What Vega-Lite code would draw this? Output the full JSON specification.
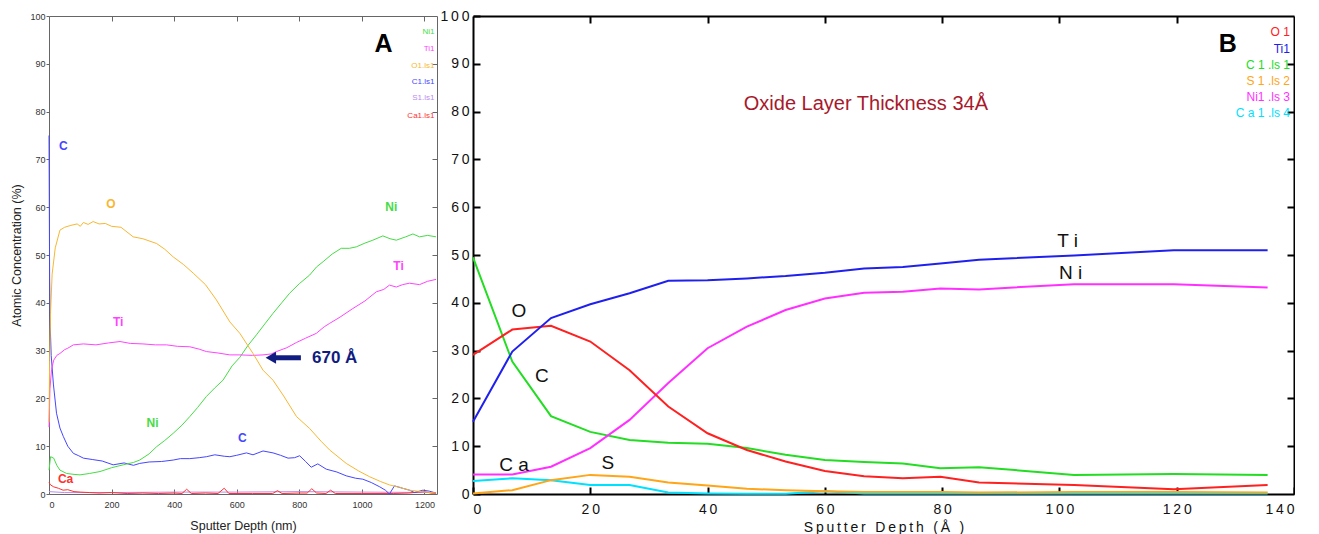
{
 "$schema": "https://vega.github.io/schema/vega-lite/v6.json",
 "background": "white",
 "padding": {"left": 10, "top": 9, "right": 0, "bottom": 0},
 "config": {"font": "Liberation Sans", "view": {"stroke": null}},
 "bounds": "flush",
 "spacing": 36,
 "resolve": {"scale": {"color": "independent"}},
 "datasets": {
  "A": [
   {"el":"S","depth":0,"conc":0.5},{"el":"S","depth":50,"conc":0.3},{"el":"S","depth":200,"conc":0.3},{"el":"S","depth":400,"conc":0.4},{"el":"S","depth":600,"conc":0.4},{"el":"S","depth":800,"conc":0.5},{"el":"S","depth":1000,"conc":0.4},{"el":"S","depth":1237,"conc":0.3},
   {"el":"Ca","depth":0,"conc":2.4},{"el":"Ca","depth":5,"conc":1.9},{"el":"Ca","depth":15,"conc":1.5},{"el":"Ca","depth":30,"conc":1.2},{"el":"Ca","depth":45,"conc":0.8},{"el":"Ca","depth":60,"conc":0.9},{"el":"Ca","depth":80,"conc":0.5},{"el":"Ca","depth":100,"conc":0.4},{"el":"Ca","depth":130,"conc":0.3},{"el":"Ca","depth":160,"conc":0.2},{"el":"Ca","depth":200,"conc":0.3},{"el":"Ca","depth":250,"conc":0.1},{"el":"Ca","depth":300,"conc":0.2},{"el":"Ca","depth":350,"conc":0.1},{"el":"Ca","depth":400,"conc":0.2},{"el":"Ca","depth":425,"conc":0.1},{"el":"Ca","depth":440,"conc":1.0},{"el":"Ca","depth":455,"conc":0.1},{"el":"Ca","depth":500,"conc":0.2},{"el":"Ca","depth":540,"conc":0.1},{"el":"Ca","depth":560,"conc":1.2},{"el":"Ca","depth":575,"conc":0.1},{"el":"Ca","depth":650,"conc":0.1},{"el":"Ca","depth":715,"conc":0.1},{"el":"Ca","depth":730,"conc":0.7},{"el":"Ca","depth":745,"conc":0.1},{"el":"Ca","depth":800,"conc":0.2},{"el":"Ca","depth":825,"conc":0.2},{"el":"Ca","depth":840,"conc":1.1},{"el":"Ca","depth":855,"conc":0.2},{"el":"Ca","depth":885,"conc":0.1},{"el":"Ca","depth":900,"conc":0.8},{"el":"Ca","depth":915,"conc":0.1},{"el":"Ca","depth":1000,"conc":0.1},{"el":"Ca","depth":1100,"conc":0.1},{"el":"Ca","depth":1150,"conc":0.2},{"el":"Ca","depth":1180,"conc":0.4},{"el":"Ca","depth":1200,"conc":0.5},{"el":"Ca","depth":1220,"conc":0.2},{"el":"Ca","depth":1237,"conc":0.1},
   {"el":"C","depth":0,"conc":75},{"el":"C","depth":1,"conc":60},{"el":"C","depth":2,"conc":45},{"el":"C","depth":4,"conc":35},{"el":"C","depth":7,"conc":29},{"el":"C","depth":14,"conc":23},{"el":"C","depth":24,"conc":16.9},{"el":"C","depth":35,"conc":13.8},{"el":"C","depth":46,"conc":12},{"el":"C","depth":60,"conc":10},{"el":"C","depth":78,"conc":8.5},{"el":"C","depth":95,"conc":8},{"el":"C","depth":110,"conc":7.5},{"el":"C","depth":140,"conc":7.2},{"el":"C","depth":170,"conc":6.9},{"el":"C","depth":205,"conc":6.1},{"el":"C","depth":240,"conc":6.5},{"el":"C","depth":270,"conc":6},{"el":"C","depth":290,"conc":6.4},{"el":"C","depth":320,"conc":6.7},{"el":"C","depth":360,"conc":6.8},{"el":"C","depth":397,"conc":7.1},{"el":"C","depth":420,"conc":7.4},{"el":"C","depth":450,"conc":7.4},{"el":"C","depth":480,"conc":7.6},{"el":"C","depth":503,"conc":7.8},{"el":"C","depth":530,"conc":8.2},{"el":"C","depth":560,"conc":7.9},{"el":"C","depth":578,"conc":7.8},{"el":"C","depth":600,"conc":8.1},{"el":"C","depth":631,"conc":8.6},{"el":"C","depth":652,"conc":8.2},{"el":"C","depth":684,"conc":9},{"el":"C","depth":716,"conc":8.6},{"el":"C","depth":740,"conc":8.1},{"el":"C","depth":764,"conc":7.5},{"el":"C","depth":785,"conc":7.6},{"el":"C","depth":801,"conc":8},{"el":"C","depth":820,"conc":6.8},{"el":"C","depth":838,"conc":5.6},{"el":"C","depth":859,"conc":6.3},{"el":"C","depth":886,"conc":5.2},{"el":"C","depth":920,"conc":4.6},{"el":"C","depth":950,"conc":3.8},{"el":"C","depth":980,"conc":3.3},{"el":"C","depth":1003,"conc":3.1},{"el":"C","depth":1030,"conc":2.4},{"el":"C","depth":1057,"conc":1.5},{"el":"C","depth":1075,"conc":0.8},{"el":"C","depth":1088,"conc":0},{"el":"C","depth":1104,"conc":1.7},{"el":"C","depth":1130,"conc":1.2},{"el":"C","depth":1152,"conc":0.8},{"el":"C","depth":1168,"conc":0.3},{"el":"C","depth":1195,"conc":0.8},{"el":"C","depth":1215,"conc":0.6},{"el":"C","depth":1237,"conc":0.2},
   {"el":"Ni","depth":0,"conc":5},{"el":"Ni","depth":5,"conc":7.8},{"el":"Ni","depth":15,"conc":7.5},{"el":"Ni","depth":25,"conc":6},{"el":"Ni","depth":35,"conc":5},{"el":"Ni","depth":56,"conc":4.3},{"el":"Ni","depth":80,"conc":4.1},{"el":"Ni","depth":99,"conc":4},{"el":"Ni","depth":130,"conc":4.3},{"el":"Ni","depth":163,"conc":4.7},{"el":"Ni","depth":200,"conc":5.5},{"el":"Ni","depth":237,"conc":6.1},{"el":"Ni","depth":270,"conc":6.6},{"el":"Ni","depth":290,"conc":7.1},{"el":"Ni","depth":320,"conc":8.4},{"el":"Ni","depth":344,"conc":9.9},{"el":"Ni","depth":370,"conc":11.2},{"el":"Ni","depth":397,"conc":12.7},{"el":"Ni","depth":425,"conc":14.4},{"el":"Ni","depth":450,"conc":16.2},{"el":"Ni","depth":475,"conc":18.1},{"el":"Ni","depth":503,"conc":20.4},{"el":"Ni","depth":530,"conc":22.2},{"el":"Ni","depth":556,"conc":23.8},{"el":"Ni","depth":585,"conc":26.8},{"el":"Ni","depth":610,"conc":28.6},{"el":"Ni","depth":635,"conc":31},{"el":"Ni","depth":663,"conc":33.3},{"el":"Ni","depth":690,"conc":35.6},{"el":"Ni","depth":716,"conc":37.8},{"el":"Ni","depth":745,"conc":40.1},{"el":"Ni","depth":769,"conc":42},{"el":"Ni","depth":800,"conc":44},{"el":"Ni","depth":833,"conc":45.8},{"el":"Ni","depth":855,"conc":47.5},{"el":"Ni","depth":876,"conc":48.6},{"el":"Ni","depth":905,"conc":50.2},{"el":"Ni","depth":934,"conc":51.4},{"el":"Ni","depth":960,"conc":51.4},{"el":"Ni","depth":982,"conc":51.7},{"el":"Ni","depth":1010,"conc":52.5},{"el":"Ni","depth":1035,"conc":53.1},{"el":"Ni","depth":1067,"conc":54},{"el":"Ni","depth":1090,"conc":53.4},{"el":"Ni","depth":1110,"conc":53.1},{"el":"Ni","depth":1140,"conc":53.8},{"el":"Ni","depth":1163,"conc":54.4},{"el":"Ni","depth":1184,"conc":53.8},{"el":"Ni","depth":1210,"conc":54.1},{"el":"Ni","depth":1237,"conc":53.8},
   {"el":"Ti","depth":0,"conc":14},{"el":"Ti","depth":3,"conc":22},{"el":"Ti","depth":8,"conc":26},{"el":"Ti","depth":15,"conc":28},{"el":"Ti","depth":25,"conc":29},{"el":"Ti","depth":35,"conc":29.4},{"el":"Ti","depth":50,"conc":30.2},{"el":"Ti","depth":60,"conc":30.5},{"el":"Ti","depth":78,"conc":31.2},{"el":"Ti","depth":110,"conc":31.4},{"el":"Ti","depth":150,"conc":31.2},{"el":"Ti","depth":190,"conc":31.6},{"el":"Ti","depth":227,"conc":31.9},{"el":"Ti","depth":260,"conc":31.5},{"el":"Ti","depth":300,"conc":31.4},{"el":"Ti","depth":340,"conc":31.2},{"el":"Ti","depth":376,"conc":31.2},{"el":"Ti","depth":410,"conc":30.9},{"el":"Ti","depth":450,"conc":30.8},{"el":"Ti","depth":480,"conc":30.3},{"el":"Ti","depth":503,"conc":29.8},{"el":"Ti","depth":540,"conc":29.5},{"el":"Ti","depth":578,"conc":29.1},{"el":"Ti","depth":610,"conc":29.1},{"el":"Ti","depth":650,"conc":29},{"el":"Ti","depth":684,"conc":29.1},{"el":"Ti","depth":710,"conc":29.3},{"el":"Ti","depth":727,"conc":29.8},{"el":"Ti","depth":760,"conc":30.6},{"el":"Ti","depth":791,"conc":31.7},{"el":"Ti","depth":820,"conc":32.6},{"el":"Ti","depth":854,"conc":33.6},{"el":"Ti","depth":880,"conc":35},{"el":"Ti","depth":897,"conc":35.7},{"el":"Ti","depth":930,"conc":37},{"el":"Ti","depth":971,"conc":38.8},{"el":"Ti","depth":1010,"conc":40.4},{"el":"Ti","depth":1046,"conc":42.3},{"el":"Ti","depth":1070,"conc":42.8},{"el":"Ti","depth":1088,"conc":43.7},{"el":"Ti","depth":1110,"conc":43.3},{"el":"Ti","depth":1130,"conc":43.8},{"el":"Ti","depth":1152,"conc":44.1},{"el":"Ti","depth":1184,"conc":43.8},{"el":"Ti","depth":1210,"conc":44.5},{"el":"Ti","depth":1237,"conc":44.9},
   {"el":"O","depth":0,"conc":15},{"el":"O","depth":2,"conc":28},{"el":"O","depth":5,"conc":38},{"el":"O","depth":10,"conc":46},{"el":"O","depth":20,"conc":51.5},{"el":"O","depth":35,"conc":55.2},{"el":"O","depth":50,"conc":55.8},{"el":"O","depth":70,"conc":56.2},{"el":"O","depth":90,"conc":56.5},{"el":"O","depth":100,"conc":56},{"el":"O","depth":110,"conc":56.8},{"el":"O","depth":125,"conc":56.4},{"el":"O","depth":141,"conc":57},{"el":"O","depth":160,"conc":56.5},{"el":"O","depth":180,"conc":56.6},{"el":"O","depth":200,"conc":56},{"el":"O","depth":230,"conc":55.8},{"el":"O","depth":269,"conc":53.8},{"el":"O","depth":300,"conc":53.4},{"el":"O","depth":344,"conc":52.4},{"el":"O","depth":370,"conc":51.2},{"el":"O","depth":397,"conc":49.6},{"el":"O","depth":430,"conc":48},{"el":"O","depth":461,"conc":46.2},{"el":"O","depth":500,"conc":43.8},{"el":"O","depth":535,"conc":40.6},{"el":"O","depth":578,"conc":36},{"el":"O","depth":610,"conc":33.6},{"el":"O","depth":652,"conc":29.4},{"el":"O","depth":684,"conc":25.9},{"el":"O","depth":716,"conc":23.8},{"el":"O","depth":750,"conc":20.5},{"el":"O","depth":791,"conc":16.2},{"el":"O","depth":833,"conc":13.7},{"el":"O","depth":870,"conc":11},{"el":"O","depth":897,"conc":9.2},{"el":"O","depth":950,"conc":6.4},{"el":"O","depth":990,"conc":4.8},{"el":"O","depth":1025,"conc":3.6},{"el":"O","depth":1060,"conc":2.6},{"el":"O","depth":1088,"conc":1.9},{"el":"O","depth":1120,"conc":1.4},{"el":"O","depth":1152,"conc":0.8},{"el":"O","depth":1190,"conc":0.5},{"el":"O","depth":1237,"conc":0.2}
  ],
  "annA": [
   {"depth":45.7,"conc":72.8,"label":"C","el":"C"},
   {"depth":198,"conc":60.7,"label":"O","el":"O"},
   {"depth":1094,"conc":60.1,"label":"Ni","el":"Ni"},
   {"depth":1117,"conc":47.7,"label":"Ti","el":"Ti"},
   {"depth":221,"conc":36.0,"label":"Ti","el":"Ti"},
   {"depth":331,"conc":14.9,"label":"Ni","el":"Ni"},
   {"depth":618,"conc":11.8,"label":"C","el":"C"},
   {"depth":53,"conc":3.1,"label":"Ca","el":"Ca"}
  ],
  "legA": [
   {"depth":1232,"conc":96.7,"label":"Ni1","el":"Ni"},
   {"depth":1232,"conc":93.1,"label":"Ti1","el":"Ti"},
   {"depth":1232,"conc":89.5,"label":"O1.ls1","el":"O"},
   {"depth":1232,"conc":86.2,"label":"C1.ls1","el":"C"},
   {"depth":1232,"conc":82.8,"label":"S1.ls1","el":"S"},
   {"depth":1232,"conc":79.1,"label":"Ca1.ls1","el":"Ca"}
  ],
  "panelA": [{"depth":1069,"conc":94.1,"label":"A"}],
  "arrowA": [{"depth":720,"depth2":805,"conc":28.5}],
  "headA": [{"depth":709,"conc":28.5}],
  "noteA": [{"depth":913,"conc":28.5,"label":"670 Å"}],
  "B": [
   {"el":"Ca","depth":0,"conc":2.7},{"el":"Ca","depth":6.7,"conc":3.3},{"el":"Ca","depth":13.3,"conc":2.9},{"el":"Ca","depth":20,"conc":1.9},{"el":"Ca","depth":26.7,"conc":1.9},{"el":"Ca","depth":33.3,"conc":0.3},{"el":"Ca","depth":40,"conc":0.1},{"el":"Ca","depth":46.7,"conc":0.05},{"el":"Ca","depth":53.3,"conc":0.05},{"el":"Ca","depth":60,"conc":0.6},{"el":"Ca","depth":66.7,"conc":0.1},{"el":"Ca","depth":73.3,"conc":0.1},{"el":"Ca","depth":79.7,"conc":0.1},{"el":"Ca","depth":86.3,"conc":0.1},{"el":"Ca","depth":102.5,"conc":0.1},{"el":"Ca","depth":119.5,"conc":0.1},{"el":"Ca","depth":135.5,"conc":0.1},
   {"el":"S","depth":0,"conc":0.1},{"el":"S","depth":6.7,"conc":0.8},{"el":"S","depth":13.3,"conc":2.9},{"el":"S","depth":20,"conc":4.0},{"el":"S","depth":26.7,"conc":3.6},{"el":"S","depth":33.3,"conc":2.4},{"el":"S","depth":40,"conc":1.8},{"el":"S","depth":46.7,"conc":1.1},{"el":"S","depth":53.3,"conc":0.8},{"el":"S","depth":60,"conc":0.6},{"el":"S","depth":66.7,"conc":0.4},{"el":"S","depth":73.3,"conc":0.4},{"el":"S","depth":79.7,"conc":0.4},{"el":"S","depth":86.3,"conc":0.3},{"el":"S","depth":102.5,"conc":0.4},{"el":"S","depth":119.5,"conc":0.4},{"el":"S","depth":135.5,"conc":0.3},
   {"el":"C","depth":0,"conc":49.5},{"el":"C","depth":6.7,"conc":27.7},{"el":"C","depth":13.3,"conc":16.3},{"el":"C","depth":20,"conc":13.0},{"el":"C","depth":26.7,"conc":11.3},{"el":"C","depth":33.3,"conc":10.7},{"el":"C","depth":40,"conc":10.5},{"el":"C","depth":46.7,"conc":9.6},{"el":"C","depth":53.3,"conc":8.2},{"el":"C","depth":60,"conc":7.1},{"el":"C","depth":66.7,"conc":6.7},{"el":"C","depth":73.3,"conc":6.4},{"el":"C","depth":79.7,"conc":5.4},{"el":"C","depth":86.3,"conc":5.6},{"el":"C","depth":102.5,"conc":4.0},{"el":"C","depth":119.5,"conc":4.2},{"el":"C","depth":135.5,"conc":4.0},
   {"el":"Ni","depth":0,"conc":4.1},{"el":"Ni","depth":6.7,"conc":4.1},{"el":"Ni","depth":13.3,"conc":5.7},{"el":"Ni","depth":20,"conc":9.6},{"el":"Ni","depth":26.7,"conc":15.5},{"el":"Ni","depth":33.3,"conc":23.2},{"el":"Ni","depth":40,"conc":30.5},{"el":"Ni","depth":46.7,"conc":35.0},{"el":"Ni","depth":53.3,"conc":38.5},{"el":"Ni","depth":60,"conc":40.9},{"el":"Ni","depth":66.7,"conc":42.1},{"el":"Ni","depth":73.3,"conc":42.3},{"el":"Ni","depth":79.7,"conc":43.0},{"el":"Ni","depth":86.3,"conc":42.8},{"el":"Ni","depth":102.5,"conc":43.9},{"el":"Ni","depth":119.5,"conc":43.9},{"el":"Ni","depth":135.5,"conc":43.2},
   {"el":"O","depth":0,"conc":29.1},{"el":"O","depth":6.7,"conc":34.4},{"el":"O","depth":13.3,"conc":35.2},{"el":"O","depth":20,"conc":31.9},{"el":"O","depth":26.7,"conc":25.9},{"el":"O","depth":33.3,"conc":18.3},{"el":"O","depth":40,"conc":12.7},{"el":"O","depth":46.7,"conc":9.2},{"el":"O","depth":53.3,"conc":6.8},{"el":"O","depth":60,"conc":4.8},{"el":"O","depth":66.7,"conc":3.7},{"el":"O","depth":73.3,"conc":3.3},{"el":"O","depth":79.7,"conc":3.6},{"el":"O","depth":86.3,"conc":2.4},{"el":"O","depth":102.5,"conc":1.9},{"el":"O","depth":119.5,"conc":1.0},{"el":"O","depth":135.5,"conc":1.9},
   {"el":"Ti","depth":0,"conc":15.1},{"el":"Ti","depth":6.7,"conc":29.8},{"el":"Ti","depth":13.3,"conc":36.8},{"el":"Ti","depth":20,"conc":39.7},{"el":"Ti","depth":26.7,"conc":42.0},{"el":"Ti","depth":33.3,"conc":44.6},{"el":"Ti","depth":40,"conc":44.7},{"el":"Ti","depth":46.7,"conc":45.1},{"el":"Ti","depth":53.3,"conc":45.6},{"el":"Ti","depth":60,"conc":46.3},{"el":"Ti","depth":66.7,"conc":47.2},{"el":"Ti","depth":73.3,"conc":47.5},{"el":"Ti","depth":79.7,"conc":48.2},{"el":"Ti","depth":86.3,"conc":49.0},{"el":"Ti","depth":102.5,"conc":49.9},{"el":"Ti","depth":119.5,"conc":51.0},{"el":"Ti","depth":135.5,"conc":51.0}
  ],
  "annB": [
   {"depth":7.84,"conc":38.3,"label":"O"},
   {"depth":11.76,"conc":24.7,"label":"C"},
   {"depth":7.0,"conc":6.1,"label":"C a"},
   {"depth":23.0,"conc":6.5,"label":"S"},
   {"depth":101.4,"conc":53.0,"label":"T i"},
   {"depth":101.9,"conc":46.2,"label":"N i"}
  ],
  "legB": [
   {"depth":139.3,"conc":96.7,"label":"O 1","el":"O"},
   {"depth":139.3,"conc":93.1,"label":"Ti1","el":"Ti"},
   {"depth":139.3,"conc":89.7,"label":"C 1 .ls 1","el":"C"},
   {"depth":139.3,"conc":86.4,"label":"S 1 .ls 2","el":"S"},
   {"depth":139.3,"conc":83.1,"label":"Ni1 .ls 3","el":"Ni"},
   {"depth":139.3,"conc":79.7,"label":"C a 1 .ls 4","el":"Ca"}
  ],
  "panelB": [{"depth":128.7,"conc":94.1,"label":"B"}],
  "noteB": [{"depth":67,"conc":81.6,"label":"Oxide Layer Thickness 34Å"}]
 },
 "hconcat": [
  {
   "width": 388, "height": 478,
   "resolve": {"axis": {"x": "independent", "y": "independent"}},
   "layer": [
    {
     "data": {"name": "A"},
     "mark": {"type": "line", "strokeWidth": 1},
     "encoding": {
      "x": {"field": "depth", "type": "quantitative", "scale": {"domain": [0, 1240], "nice": false, "zero": false},
        "axis": {"orient": "bottom", "values": [0,200,400,600,800,1000,1200], "format": "d", "grid": false, "domainColor": "#666", "tickColor": "#666", "tickSize": -5, "labelPadding": 11, "labelFontSize": 9, "labelColor": "#333", "title": "Sputter Depth (nm)", "titleFontSize": 12.5, "titleFontWeight": "normal", "titleColor": "#222", "titlePadding": 10}},
      "y": {"field": "conc", "type": "quantitative", "scale": {"domain": [0, 100], "nice": false},
        "axis": {"orient": "left", "values": [0,10,20,30,40,50,60,70,80,90,100], "grid": false, "domainColor": "#666", "tickColor": "#666", "tickSize": 3, "labelPadding": 1, "labelFontSize": 9, "labelColor": "#333", "title": "Atomic Concentration (%)", "titleFontSize": 12.5, "titleFontWeight": "normal", "titleColor": "#222", "titlePadding": 6}},
      "color": {"field": "el", "type": "nominal", "legend": null,
        "scale": {"domain": ["Ni","Ti","O","C","S","Ca"], "range": ["#46dc46","#ff44ff","#f7b733","#4646ff","#b98cf2","#ff3030"]}}
     }
    },
    {
     "data": {"name": "legA"},
     "mark": {"type": "text", "fontSize": 8, "align": "right", "baseline": "middle"},
     "encoding": {
      "x": {"field": "depth", "type": "quantitative", "axis": {"orient": "top", "values": [200,400,600,800,1000,1200], "labels": false, "grid": false, "domainColor": "#666", "tickColor": "#666", "tickSize": -5, "title": null}},
      "y": {"field": "conc", "type": "quantitative", "axis": {"orient": "right", "values": [10,20,30,40,50,60,70,80,90], "labels": false, "grid": false, "domainColor": "#666", "tickColor": "#666", "tickSize": -5, "title": null}},
      "text": {"field": "label"},
      "color": {"field": "el", "type": "nominal", "legend": null}
     }
    },
    {
     "data": {"name": "annA"},
     "mark": {"type": "text", "fontSize": 12, "fontWeight": "bold", "align": "center", "baseline": "middle"},
     "encoding": {
      "x": {"field": "depth", "type": "quantitative", "axis": null},
      "y": {"field": "conc", "type": "quantitative", "axis": null},
      "text": {"field": "label"},
      "color": {"field": "el", "type": "nominal", "legend": null}
     }
    },
    {
     "data": {"name": "panelA"},
     "mark": {"type": "text", "fontSize": 25, "fontWeight": "bold", "align": "center", "baseline": "middle", "color": "#000"},
     "encoding": {
      "x": {"field": "depth", "type": "quantitative", "axis": null},
      "y": {"field": "conc", "type": "quantitative", "axis": null},
      "text": {"field": "label"}
     }
    },
    {
     "data": {"name": "arrowA"},
     "mark": {"type": "rule", "strokeWidth": 5, "color": "#101c80"},
     "encoding": {
      "x": {"field": "depth", "type": "quantitative", "axis": null},
      "x2": {"field": "depth2"},
      "y": {"field": "conc", "type": "quantitative", "axis": null}
     }
    },
    {
     "data": {"name": "headA"},
     "mark": {"type": "point", "shape": "triangle-left", "filled": true, "size": 144, "color": "#101c80", "opacity": 1},
     "encoding": {
      "x": {"field": "depth", "type": "quantitative", "axis": null},
      "y": {"field": "conc", "type": "quantitative", "axis": null}
     }
    },
    {
     "data": {"name": "noteA"},
     "mark": {"type": "text", "fontSize": 17, "fontWeight": "bold", "align": "center", "baseline": "middle", "color": "#101c80"},
     "encoding": {
      "x": {"field": "depth", "type": "quantitative", "axis": null},
      "y": {"field": "conc", "type": "quantitative", "axis": null},
      "text": {"field": "label"}
     }
    }
   ]
  },
  {
   "width": 821, "height": 478,
   "resolve": {"axis": {"x": "independent", "y": "independent"}},
   "layer": [
    {
     "data": {"name": "B"},
     "mark": {"type": "line", "strokeWidth": 2},
     "encoding": {
      "x": {"field": "depth", "type": "quantitative", "scale": {"domain": [0, 140], "nice": false, "zero": false},
        "axis": {"orient": "bottom", "values": [0,20,40,60,80,100,120,140], "grid": false, "domainColor": "#000", "domainWidth": 2, "tickColor": "#000", "tickWidth": 2, "tickSize": -7, "labelPadding": 15, "labelFontSize": 14, "labelColor": "#111", "labelExpr": "join(split(datum.label, ''), '\u2009')", "title": "S\u2009p\u2009u\u2009t\u2009t\u2009e\u2009r\u2009 \u2009D\u2009e\u2009p\u2009t\u2009h\u2009 \u2009(\u2009Å\u2009 \u2009)", "titleFontSize": 14, "titleFontWeight": "normal", "titleColor": "#111", "titlePadding": 4}},
      "y": {"field": "conc", "type": "quantitative", "scale": {"domain": [0, 100], "nice": false},
        "axis": {"orient": "left", "values": [0,10,20,30,40,50,60,70,80,90,100], "grid": false, "domainColor": "#000", "domainWidth": 2, "tickColor": "#000", "tickWidth": 2, "tickSize": -7, "labelPadding": 11, "labelFontSize": 14, "labelColor": "#111", "labelExpr": "join(split(datum.label, ''), '\u2009')", "title": null}},
      "color": {"field": "el", "type": "nominal", "legend": null,
        "scale": {"domain": ["O","Ti","C","S","Ni","Ca"], "range": ["#ff2020","#2020ee","#22dd22","#ffa516","#ff30ff","#00e0ff"]}}
     }
    },
    {
     "data": {"name": "legB"},
     "mark": {"type": "text", "fontSize": 12, "align": "right", "baseline": "middle"},
     "encoding": {
      "x": {"field": "depth", "type": "quantitative", "axis": {"orient": "top", "values": [20,40,60,80,100,120], "labels": false, "grid": false, "domainColor": "#000", "domainWidth": 2, "tickColor": "#000", "tickWidth": 2, "tickSize": -7, "title": null}},
      "y": {"field": "conc", "type": "quantitative", "axis": {"orient": "right", "values": [10,20,30,40,50,60,70,80,90], "labels": false, "grid": false, "domainColor": "#000", "domainWidth": 2, "tickColor": "#000", "tickWidth": 2, "tickSize": -7, "title": null}},
      "text": {"field": "label"},
      "color": {"field": "el", "type": "nominal", "legend": null}
     }
    },
    {
     "data": {"name": "annB"},
     "mark": {"type": "text", "fontSize": 19, "align": "center", "baseline": "middle", "color": "#111"},
     "encoding": {
      "x": {"field": "depth", "type": "quantitative", "axis": null},
      "y": {"field": "conc", "type": "quantitative", "axis": null},
      "text": {"field": "label"}
     }
    },
    {
     "data": {"name": "panelB"},
     "mark": {"type": "text", "fontSize": 25, "fontWeight": "bold", "align": "center", "baseline": "middle", "color": "#000"},
     "encoding": {
      "x": {"field": "depth", "type": "quantitative", "axis": null},
      "y": {"field": "conc", "type": "quantitative", "axis": null},
      "text": {"field": "label"}
     }
    },
    {
     "data": {"name": "noteB"},
     "mark": {"type": "text", "fontSize": 20, "align": "center", "baseline": "middle", "color": "#a8192b"},
     "encoding": {
      "x": {"field": "depth", "type": "quantitative", "axis": null},
      "y": {"field": "conc", "type": "quantitative", "axis": null},
      "text": {"field": "label"}
     }
    }
   ]
  }
 ]
}
